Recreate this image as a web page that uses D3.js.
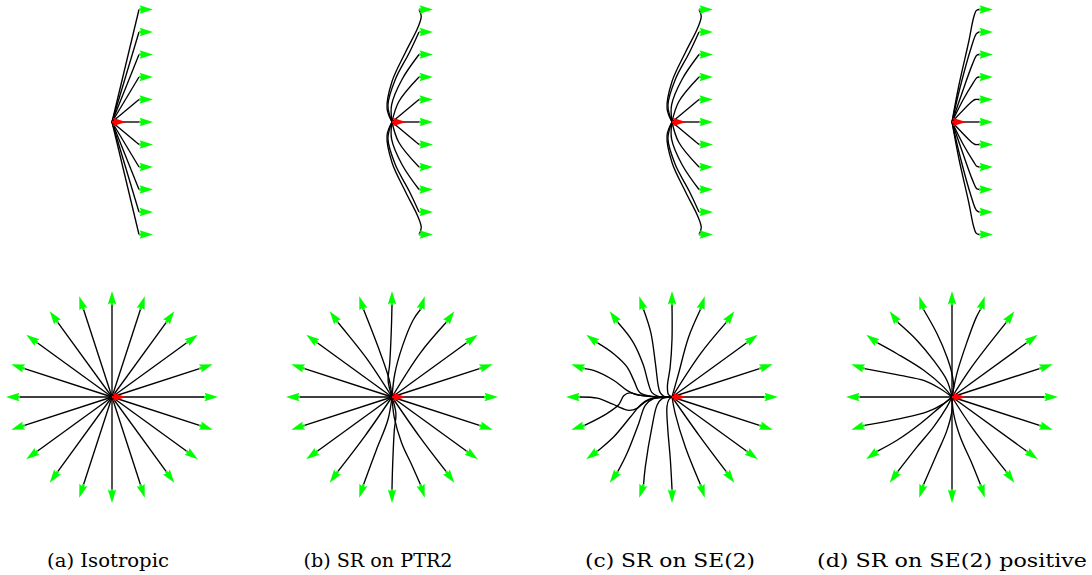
<!DOCTYPE html>
<html>
<head>
<meta charset="utf-8">
<script src="https://cdn.jsdelivr.net/npm/d3@7"></script>
<style>
  html, body { margin: 0; padding: 0; background: #fff; }
  svg { display: block; }
  .caption { font-family: "DejaVu Serif", serif; font-size: 19px; fill: #000; }
</style>
</head>
<body>
<svg id="chart" width="1092" height="575"></svg>
<script>
// ---- data (units: origin at 0,0, y up) ----
const captions = ['(a) Isotropic', '(b) SR on PTR2', '(c) SR on SE(2)', '(d) SR on SE(2) positive'];

// top row: targets at x = 1.2, y = 5 .. -5, all heading right
const topTargetX = 1.2;
const topTargetsY = [5, 4, 3, 2, 1, 0, -1, -2, -3, -4, -5];

// bottom row: targets on a circle of radius 4, heading outward
const bottomRadius = 4;
const bottomAngles = [0, 18, 36, 54, 72, 90, 108, 126, 144, 162, 180, 198, 216, 234, 252, 270, 288, 306, 324, 342];

// via points of each geodesic (between origin and target)
const topViaIsotropic = [[], [], [], [], [], [], [], [], [], [], []];

const topViaPTR2 = [
  [[-0.22, 0.6], [0.0, 1.8], [0.6, 3.1], [1.15, 4.2], [1.3, 4.7]],
  [[-0.18, 0.75], [0.15, 1.9], [0.78, 3.1]],
  [[-0.02, 0.75], [0.45, 1.9]],
  [[0.3, 0.9]],
  [],
  [],
  [],
  [[0.3, -0.9]],
  [[-0.02, -0.75], [0.45, -1.9]],
  [[-0.18, -0.75], [0.15, -1.9], [0.78, -3.1]],
  [[-0.22, -0.6], [0.0, -1.8], [0.6, -3.1], [1.15, -4.2], [1.3, -4.7]]
];

const topViaSE2 = [
  [[-0.22, 0.6], [0.0, 1.8], [0.6, 3.1], [1.15, 4.2], [1.3, 4.7]],
  [[-0.18, 0.75], [0.15, 1.9], [0.78, 3.1]],
  [[-0.02, 0.75], [0.45, 1.9]],
  [[0.3, 0.9]],
  [],
  [],
  [],
  [[0.3, -0.9]],
  [[-0.02, -0.75], [0.45, -1.9]],
  [[-0.18, -0.75], [0.15, -1.9], [0.78, -3.1]],
  [[-0.22, -0.6], [0.0, -1.8], [0.6, -3.1], [1.15, -4.2], [1.3, -4.7]]
];

const topViaSE2Pos = [
  [[0.3, 1.6], [0.75, 3.6], [0.95, 4.6], [1.08, 4.95]],
  [[0.35, 1.5], [0.85, 3.3], [1.08, 3.92]],
  [[0.45, 1.3], [0.9, 2.55], [1.1, 2.97]],
  [[0.5, 1.0], [0.95, 1.75], [1.1, 1.97]],
  [[0.9, 0.92], [1.03, 1.0]],
  [],
  [[0.9, -0.92], [1.03, -1.0]],
  [[0.5, -1.0], [0.95, -1.75], [1.1, -1.97]],
  [[0.45, -1.3], [0.9, -2.55], [1.1, -2.97]],
  [[0.35, -1.5], [0.85, -3.3], [1.08, -3.92]],
  [[0.3, -1.6], [0.75, -3.6], [0.95, -4.6], [1.08, -4.95]]
];

const bottomViaIsotropic = [[], [], [], [], [], [], [], [], [], [], [], [], [], [], [], [], [], [], [], []];

const bottomViaPTR2 = [
  [],
  [],
  [],
  [[1.22, 1.9]],
  [[0.12, 1.0], [0.45, 2.2], [0.92, 3.35]],
  [[-0.17, 0.72], [-0.1, 1.45], [-0.03, 2.9]],
  [[-0.12, 0.75], [-0.52, 1.95]],
  [[-1.12, 1.7]],
  [],
  [],
  [],
  [],
  [],
  [[-1.18, -1.7]],
  [[-0.18, -1.0], [-0.68, -2.3]],
  [[0.17, -0.72], [0.1, -1.45], [0.03, -2.9]],
  [[0.1, -0.9], [0.42, -2.0], [0.88, -3.0]],
  [[1.18, -1.7]],
  [],
  []
];

const bottomViaSE2 = [
  [],
  [],
  [],
  [[1.25, 1.9]],
  [[0.28, 1.0], [0.72, 2.6]],
  [[-0.15, 0.1], [-0.2, 0.45], [-0.08, 1.3], [0, 2.5]],
  [[-0.35, 0.03], [-0.52, 0.2], [-0.6, 0.5], [-0.72, 1.45], [-0.92, 2.8]],
  [[-0.6, 0.03], [-0.88, 0.2], [-1.03, 0.6], [-1.25, 1.4], [-1.7, 2.4]],
  [[-0.9, 0.03], [-1.4, 0.2], [-1.65, 0.7], [-1.95, 1.3], [-2.5, 1.85]],
  [[-1.0, 0.03], [-1.6, 0.12], [-1.96, 0.29], [-2.54, 0.73], [-3.41, 1.16]],
  [[-0.7, -0.03], [-1.15, -0.2], [-1.5, -0.48], [-1.85, -0.58], [-2.15, -0.5], [-2.6, -0.3], [-3.25, -0.05]],
  [[-0.9, 0.02], [-1.45, 0.08], [-1.85, 0.18], [-2.1, 0.05], [-2.32, -0.34], [-2.83, -0.72]],
  [[-1.01, -0.1], [-1.38, -0.36], [-1.81, -0.87], [-2.54, -1.74]],
  [[-0.8, -0.07], [-1.16, -0.36], [-1.45, -1.16], [-1.96, -2.46]],
  [[-0.43, -0.07], [-0.65, -0.36], [-0.87, -1.3], [-1.16, -3.04]],
  [[-0.14, -0.12], [-0.22, -0.43], [-0.19, -1.3], [-0.07, -2.75]],
  [[0.14, -0.72], [0.58, -2.17]],
  [[1.2, -1.7]],
  [],
  []
];

const bottomViaSE2Pos = [
  [],
  [],
  [],
  [[0.85, 1.3]],
  [[0.22, 1.05], [0.62, 2.3], [1.05, 3.45]],
  [],
  [[0.07, 0.43], [0, 1.01], [-0.22, 1.74], [-0.65, 2.75]],
  [[-0.22, 0.72], [-0.8, 1.59], [-1.52, 2.46]],
  [[-0.36, 0.43], [-1.23, 1.16], [-2.39, 1.88]],
  [[-0.51, 0.36], [-1.23, 0.72], [-2.25, 0.94]],
  [],
  [[-0.36, -0.29], [-1.09, -0.65], [-2.25, -0.94]],
  [[-0.51, -0.43], [-1.38, -1.16], [-2.39, -1.88]],
  [[-0.22, -0.43], [-0.8, -1.3], [-1.52, -2.17]],
  [[0, -0.58], [-0.22, -1.45], [-0.65, -2.46]],
  [],
  [[0.07, -0.72], [0.36, -1.74], [0.87, -2.9]],
  [[0.85, -1.3]],
  [],
  []
];

const topVia = [topViaIsotropic, topViaPTR2, topViaSE2, topViaSE2Pos];
const bottomVia = [bottomViaIsotropic, bottomViaPTR2, bottomViaSE2, bottomViaSE2Pos];

// ---- layout ----
const svg = d3.select('#chart');
const PANEL_X = [112, 392, 672, 952];
const CAPTION_X = [108, 378, 670, 952];
const CAPTION_W = [122, 149, 170, 270];
const TOP_CY = 122;
const BOTTOM_CY = 397;
const TOP_UNIT = 22.5;
const BOTTOM_UNIT = 23;
const CAPTION_Y = 567;

// quiver-like arrow pointing along +x, base at 0,0
const ARROW = 'M0,-1.3L2,-1.3L0.6,-4.2L14,0L0.6,4.2L2,1.3L0,1.3Z';

const topTargets = topTargetsY.map(y => ({ x: topTargetX, y: y, angle: 0 }));
const bottomTargets = bottomAngles.map(a => ({
  x: bottomRadius * Math.cos(a * Math.PI / 180),
  y: bottomRadius * Math.sin(a * Math.PI / 180),
  angle: a
}));

function drawPanel(cx, cy, unit, targets, via) {
  const x = d3.scaleLinear().domain([0, 1]).range([cx, cx + unit]);
  const y = d3.scaleLinear().domain([0, 1]).range([cy, cy - unit]);
  const line = d3.line()
    .x(d => x(d[0]))
    .y(d => y(d[1]))
    .curve(d3.curveCatmullRom.alpha(0.5));

  const g = svg.append('g');

  g.selectAll('path.geodesic')
    .data(targets)
    .enter()
    .append('path')
    .attr('class', 'geodesic')
    .attr('d', (t, i) => line([[0, 0], ...via[i], [t.x, t.y]]))
    .attr('fill', 'none')
    .attr('stroke', '#000')
    .attr('stroke-width', 1.35);

  g.selectAll('path.target')
    .data(targets)
    .enter()
    .append('path')
    .attr('class', 'target')
    .attr('d', ARROW)
    .attr('transform', t => `translate(${x(t.x)},${y(t.y)}) rotate(${-t.angle})`)
    .attr('fill', '#00ff00');

  g.append('path')
    .attr('d', ARROW)
    .attr('transform', `translate(${x(0)},${y(0)})`)
    .attr('fill', '#ff0000');
}

PANEL_X.forEach((cx, i) => {
  drawPanel(cx, TOP_CY, TOP_UNIT, topTargets, topVia[i]);
  drawPanel(cx, BOTTOM_CY, BOTTOM_UNIT, bottomTargets, bottomVia[i]);
});

svg.selectAll('text.caption')
  .data(captions)
  .enter()
  .append('text')
  .attr('class', 'caption')
  .attr('x', (d, i) => CAPTION_X[i])
  .attr('y', CAPTION_Y)
  .attr('text-anchor', 'middle')
  .attr('textLength', (d, i) => CAPTION_W[i])
  .attr('lengthAdjust', 'spacingAndGlyphs')
  .text(d => d);
</script>
</body>
</html>
